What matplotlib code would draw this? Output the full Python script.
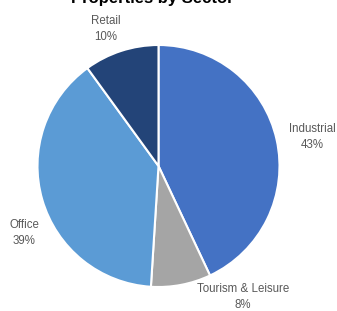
import matplotlib
matplotlib.use('Agg')
import matplotlib.pyplot as plt

sectors = ['Industrial', 'Tourism & Leisure', 'Office', 'Retail']
shares = [43, 8, 39, 10]
colors = ['#4472C4', '#A5A5A5', '#5B9BD5', '#234478']
# label anchor points (pixels from top-left)
label_xy = [(312, 137), (243, 297), (24, 233), (106, 29)]

W, H = 337, 311
fig = plt.figure(figsize=(W / 100, H / 100), dpi=100)
ax = fig.add_axes([0, 0, 1, 1])

cx, cy, r = 158.5, H - 166, 121
ax.pie(shares, colors=colors, startangle=90, counterclock=False,
       center=(cx, cy), radius=r, frame=True,
       wedgeprops=dict(edgecolor='white', linewidth=1.5))
ax.set_xlim(0, W); ax.set_ylim(0, H)
ax.set_aspect('equal'); ax.axis('off')

for name, v, (x, y) in zip(sectors, shares, label_xy):
    ax.text(x, H - y, f'{name}\n{v}%', ha='center', va='center',
            fontsize=8.3, color='#595959', family='Liberation Sans',
            linespacing=1.45)

ax.text(152, H + 1, 'Properties by Sector', ha='center', va='center',
        fontsize=12, fontweight='bold', color='#000000',
        family='Liberation Sans', clip_on=False)

fig.savefig('out.png', dpi=100)
